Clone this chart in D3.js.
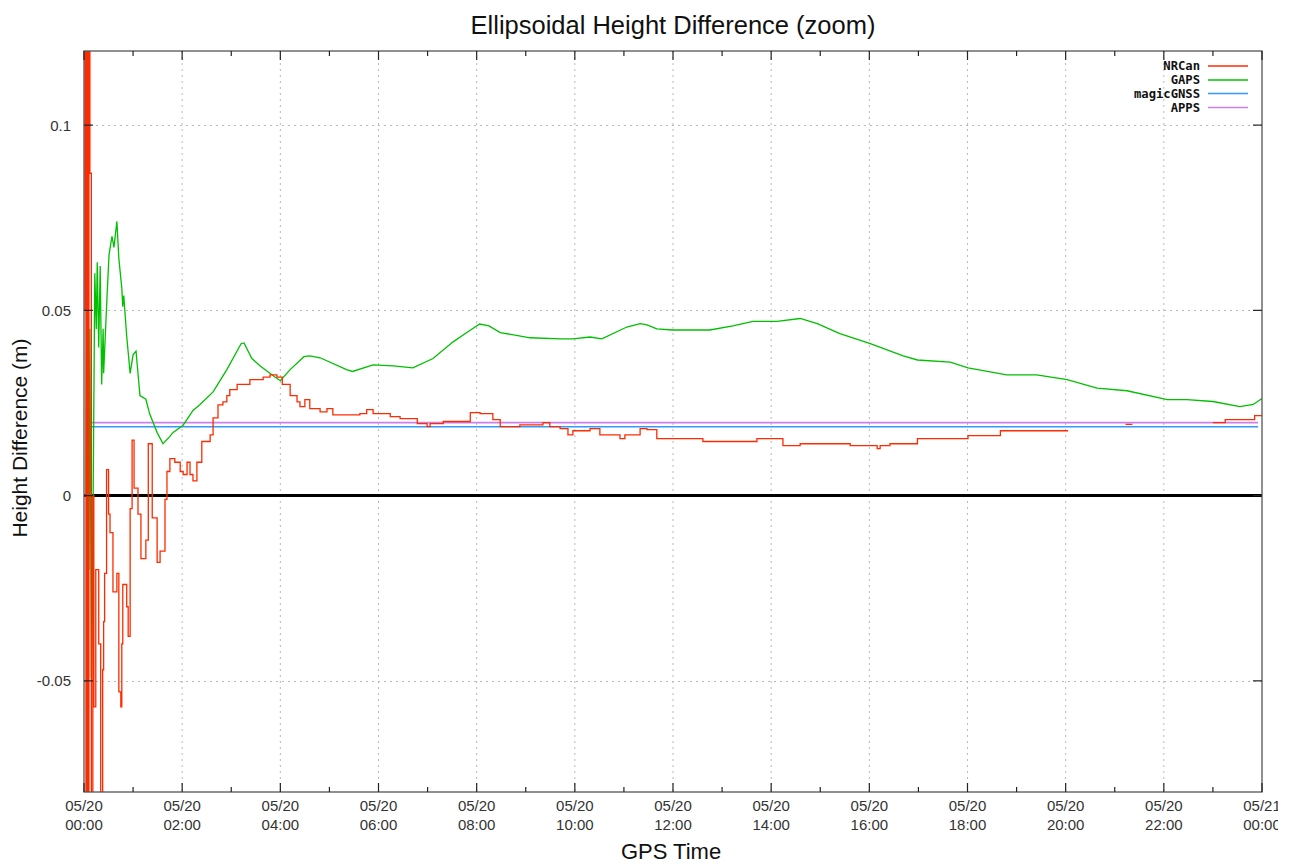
<!DOCTYPE html>
<html>
<head>
<meta charset="utf-8">
<script src="https://cdn.jsdelivr.net/npm/d3@7"></script>
<style>
  html, body { margin: 0; padding: 0; background: #fff; }
  svg { display: block; }
</style>
</head>
<body>
<script>
// ---------------- DATA ----------------
const chartTitle = "Ellipsoidal Height Difference (zoom)";
const yAxisTitle = "Height Difference (m)";
const xAxisTitle = "GPS Time";

const seriesNames = ["NRCan", "GAPS", "magicGNSS", "APPS"];
const seriesColors = ["#ff2a00", "#00c000", "#3399ff", "#cc80ee"];

const xTickHours = [0, 2, 4, 6, 8, 10, 12, 14, 16, 18, 20, 22, 24];
const xTickDates = ["05/20","05/20","05/20","05/20","05/20","05/20","05/20","05/20","05/20","05/20","05/20","05/20","05/21"];
const xTickTimes = ["00:00","02:00","04:00","06:00","08:00","10:00","12:00","14:00","16:00","18:00","20:00","22:00","00:00"];
const xMinorHours = [1, 3, 5, 7, 9, 11, 13, 15, 17, 19, 21, 23];
const yTickValues = [-0.05, 0, 0.05, 0.1];
const yTickLabels = ["-0.05", "0", "0.05", "0.1"];

// [hour, metres]; null = no solution
const nrcan = [
  [0.00, 0.05], [0.02, 0.15], [0.04, -0.12], [0.06, 0.15], [0.08, -0.10], [0.10, 0.15],
  [0.12, 0.087], [0.15, -0.10], [0.18, 0.0], [0.20, -0.057], [0.24, -0.02], [0.30, -0.04],
  [0.34, -0.10], [0.38, -0.047], [0.40, -0.034], [0.42, -0.021], [0.46, 0.007], [0.50, -0.005],
  [0.53, -0.010], [0.59, -0.026], [0.67, -0.021], [0.71, -0.053], [0.75, -0.057], [0.77, -0.040],
  [0.79, -0.024], [0.87, -0.030], [0.90, -0.038], [0.94, -0.0035], [0.98, 0.015], [1.02, 0.002],
  [1.10, -0.005], [1.16, -0.017], [1.26, -0.012], [1.31, 0.014], [1.39, -0.006], [1.49, -0.018],
  [1.55, -0.015], [1.65, -0.001], [1.69, 0.0065], [1.75, 0.010], [1.85, 0.009], [1.96, 0.0065],
  [2.02, 0.0057], [2.10, 0.009], [2.16, 0.0057], [2.22, 0.004], [2.30, 0.009], [2.40, 0.0146],
  [2.51, 0.0146], [2.57, 0.0164], [2.63, 0.021], [2.73, 0.0245], [2.83, 0.0253], [2.91, 0.027],
  [2.97, 0.0286], [3.12, 0.030], [3.26, 0.030], [3.38, 0.0313], [3.59, 0.0313], [3.65, 0.032],
  [3.79, 0.0326], [3.93, 0.032], [4.04, 0.030], [4.20, 0.027], [4.34, 0.0253], [4.40, 0.024],
  [4.50, 0.0259], [4.60, 0.0235], [4.81, 0.0226], [4.95, 0.0235], [5.07, 0.0218], [5.62, 0.0221],
  [5.76, 0.0232], [5.89, 0.0221], [6.24, 0.0213], [6.44, 0.0208], [6.79, 0.0194], [6.99, 0.0186],
  [7.05, 0.0194], [7.32, 0.0200], [7.87, 0.0224], [8.07, 0.0221], [8.33, 0.0205], [8.48, 0.0186],
  [8.88, 0.0191], [9.35, 0.0197], [9.49, 0.0186], [9.70, 0.0181], [9.86, 0.0164], [9.96, 0.0175],
  [10.31, 0.0181], [10.51, 0.0164], [10.92, 0.0154], [11.02, 0.0164], [11.33, 0.0181], [11.47, 0.0178],
  [11.67, 0.0154], [12.55, 0.0154], [12.61, 0.0146], [13.63, 0.0146], [13.71, 0.0154], [14.24, 0.0135],
  [14.59, 0.0140], [15.61, 0.0135], [16.16, 0.0127], [16.22, 0.0135], [16.42, 0.0140], [16.98, 0.0154],
  [18.01, 0.0162], [18.67, 0.0175], [20.05, 0.0175], [20.06, null],
  [21.22, 0.0192], [21.36, 0.0192], [21.37, null],
  [23.00, 0.0197], [23.25, 0.0205], [23.55, 0.0205], [23.85, 0.0216], [24.00, 0.0216]
];

const gaps = [
  [0.04, 0.000], [0.07, 0.130], [0.10, -0.020], [0.12, 0.045], [0.15, -0.049], [0.17, -0.030],
  [0.22, 0.060], [0.25, 0.045], [0.27, 0.063], [0.30, 0.040], [0.33, 0.062], [0.36, 0.030],
  [0.39, 0.045], [0.40, 0.033], [0.47, 0.054], [0.51, 0.065], [0.57, 0.070], [0.61, 0.067],
  [0.67, 0.074], [0.71, 0.064], [0.77, 0.056], [0.79, 0.051], [0.81, 0.054], [0.87, 0.043],
  [0.94, 0.033], [1.00, 0.038], [1.06, 0.039], [1.12, 0.030], [1.14, 0.027], [1.26, 0.026],
  [1.34, 0.022], [1.49, 0.017], [1.61, 0.014], [1.75, 0.016], [1.81, 0.017], [2.02, 0.019],
  [2.22, 0.023], [2.36, 0.0245], [2.63, 0.028], [2.91, 0.034], [3.20, 0.041], [3.26, 0.0412],
  [3.42, 0.037], [3.59, 0.035], [3.89, 0.032], [4.00, 0.031], [4.20, 0.034], [4.48, 0.0375],
  [4.60, 0.0377], [4.81, 0.0372], [5.35, 0.034], [5.47, 0.0335], [5.89, 0.0353], [6.30, 0.035],
  [6.70, 0.0345], [7.11, 0.037], [7.52, 0.0415], [7.80, 0.044], [8.06, 0.0463], [8.25, 0.0458],
  [8.48, 0.044], [9.09, 0.0426], [9.70, 0.0423], [9.96, 0.0423], [10.31, 0.0428], [10.55, 0.0423],
  [11.06, 0.0455], [11.33, 0.0464], [11.47, 0.0461], [11.67, 0.045], [12.00, 0.0447], [12.75, 0.0447],
  [13.22, 0.0458], [13.63, 0.047], [14.12, 0.047], [14.59, 0.0478], [14.94, 0.0464], [15.40, 0.0437],
  [16.02, 0.041], [16.69, 0.0377], [16.98, 0.0366], [17.65, 0.036], [18.01, 0.0345], [18.80, 0.0326],
  [19.41, 0.0326], [20.03, 0.0313], [20.64, 0.029], [21.25, 0.0283], [22.07, 0.0259], [22.47, 0.0259],
  [23.00, 0.0254], [23.55, 0.024], [23.82, 0.0246], [24.00, 0.0262]
];

const magicGNSS = [[0.08, 0.0186], [23.92, 0.0186]];
const apps = [[0.08, 0.0197], [23.92, 0.0197]];

// ---------------- LAYOUT ----------------
const W = 1293, H = 865;
const m = { left: 84, right: 1262, top: 51, bottom: 792 };
const FONT = "'Liberation Sans', Arial, Helvetica, sans-serif";

const svg = d3.select("body").append("svg").attr("width", W).attr("height", H)
  .style("font-family", FONT);

const x = d3.scaleLinear().domain([0, 24]).range([m.left, m.right]);
const y = d3.scaleLinear().domain([-0.08, 0.12]).range([m.bottom, m.top]);

const defs = svg.append("defs");
defs.append("clipPath").attr("id", "plotclip").append("rect")
  .attr("x", m.left).attr("y", m.top).attr("width", m.right - m.left).attr("height", m.bottom - m.top);
defs.append("clipPath").attr("id", "pageclip").append("rect")
  .attr("x", 0).attr("y", 0).attr("width", 1278).attr("height", H);

// grid
const grid = svg.append("g");
xTickHours.filter(h => h > 0 && h < 24).forEach(h => {
  grid.append("line").attr("x1", x(h)).attr("x2", x(h)).attr("y1", m.top).attr("y2", m.bottom)
    .attr("stroke", "#b8b8b8").attr("stroke-width", 1).attr("stroke-dasharray", "2,4");
});
yTickValues.filter(v => v !== 0).forEach(v => {
  grid.append("line").attr("x1", m.left).attr("x2", m.right).attr("y1", Math.round(y(v)) + 0.5).attr("y2", Math.round(y(v)) + 0.5)
    .attr("stroke", "#b8b8b8").attr("stroke-width", 1).attr("stroke-dasharray", "2,4");
});

// zero line
svg.append("line").attr("x1", m.left).attr("x2", m.right).attr("y1", y(0)).attr("y2", y(0))
  .attr("stroke", "#000").attr("stroke-width", 3);

// series
const plot = svg.append("g").attr("clip-path", "url(#plotclip)");
const lineStep = d3.line().defined(d => d[1] !== null).x(d => x(d[0])).y(d => y(d[1])).curve(d3.curveStepAfter);
const lineLin = d3.line().defined(d => d[1] !== null).x(d => x(d[0])).y(d => y(d[1]));

plot.append("path").datum(magicGNSS).attr("d", lineLin).attr("fill", "none")
  .attr("stroke", seriesColors[2]).attr("stroke-width", 1.6);
plot.append("path").datum(apps).attr("d", lineLin).attr("fill", "none")
  .attr("stroke", seriesColors[3]).attr("stroke-width", 1.8);
plot.append("path").datum(gaps).attr("d", lineLin).attr("fill", "none")
  .attr("stroke", seriesColors[1]).attr("stroke-width", 1.3);
plot.append("path").datum(nrcan).attr("d", lineStep).attr("fill", "none")
  .attr("stroke", seriesColors[0]).attr("stroke-width", 1.3);

// border
svg.append("rect").attr("x", m.left).attr("y", m.top).attr("width", m.right - m.left).attr("height", m.bottom - m.top)
  .attr("fill", "none").attr("stroke", "#555").attr("stroke-width", 1.3);

// x ticks (inward, top and bottom)
const ticks = svg.append("g").attr("stroke", "#222").attr("stroke-width", 1.2);
xTickHours.forEach(h => {
  ticks.append("line").attr("x1", x(h)).attr("x2", x(h)).attr("y1", m.bottom).attr("y2", m.bottom - 9);
  ticks.append("line").attr("x1", x(h)).attr("x2", x(h)).attr("y1", m.top).attr("y2", m.top + 9);
});
xMinorHours.forEach(h => {
  ticks.append("line").attr("x1", x(h)).attr("x2", x(h)).attr("y1", m.bottom).attr("y2", m.bottom - 5);
  ticks.append("line").attr("x1", x(h)).attr("x2", x(h)).attr("y1", m.top).attr("y2", m.top + 5);
});
yTickValues.forEach(v => {
  ticks.append("line").attr("x1", m.left).attr("x2", m.left + 9).attr("y1", y(v)).attr("y2", y(v));
  ticks.append("line").attr("x1", m.right).attr("x2", m.right - 9).attr("y1", y(v)).attr("y2", y(v));
});

// x tick labels
const xl = svg.append("g").attr("clip-path", "url(#pageclip)")
  .attr("font-size", 15).attr("fill", "#333").attr("text-anchor", "middle");
xTickHours.forEach((h, i) => {
  xl.append("text").attr("x", x(h)).attr("y", 811).text(xTickDates[i]);
  xl.append("text").attr("x", x(h)).attr("y", 830).text(xTickTimes[i]);
});

// y tick labels
const yl = svg.append("g").attr("font-size", 15).attr("fill", "#333").attr("text-anchor", "end");
yTickValues.forEach((v, i) => {
  yl.append("text").attr("x", 71).attr("y", y(v) + 5.5).text(yTickLabels[i]);
});

// titles
svg.append("text").attr("x", 673).attr("y", 34).attr("text-anchor", "middle")
  .attr("font-size", 25.5).attr("fill", "#111").text(chartTitle);
svg.append("text").attr("x", 671).attr("y", 859).attr("text-anchor", "middle")
  .attr("font-size", 22).attr("fill", "#111").text(xAxisTitle);
svg.append("text").attr("transform", "translate(27,438) rotate(-90)").attr("text-anchor", "middle")
  .attr("font-size", 21).attr("fill", "#111").text(yAxisTitle);

// legend
const legendY = [66, 80, 93.5, 107.5];
const lg = svg.append("g");
seriesNames.forEach((name, i) => {
  lg.append("text").attr("x", 1200).attr("y", legendY[i] + 4).attr("text-anchor", "end")
    .attr("font-family", "'DejaVu Sans Mono', monospace").attr("font-weight", "bold")
    .attr("font-size", 12.2).attr("fill", "#111").text(name);
  lg.append("line").attr("x1", 1208).attr("x2", 1248).attr("y1", legendY[i]).attr("y2", legendY[i])
    .attr("stroke", seriesColors[i]).attr("stroke-width", 1.5);
});
</script>
</body>
</html>
